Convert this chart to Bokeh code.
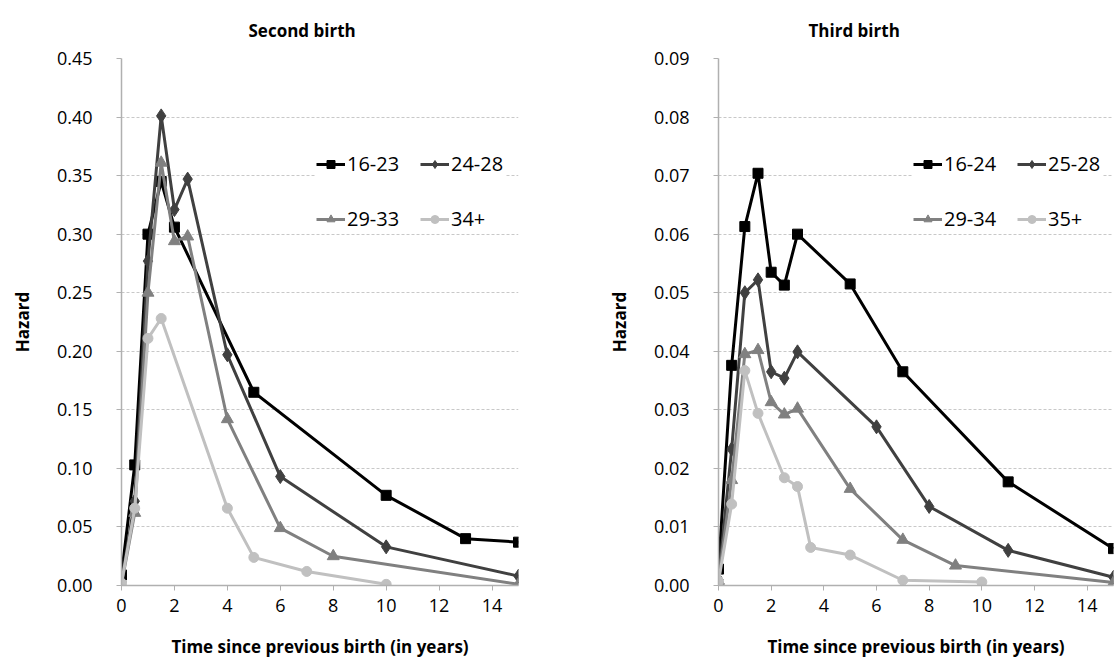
from bokeh.plotting import figure
from bokeh.models import Range1d, FixedTicker, Legend, LegendItem, PrintfTickFormatter
from bokeh.layouts import row
from bokeh.embed import file_html
from bokeh.resources import INLINE

# ---------------- data ----------------
x_ticks = [0, 2, 4, 6, 8, 10, 12, 14]

second_title = "Second birth"
second_labels = ["16-23", "24-28", "29-33", "34+"]
second_x_16_23 = [0, 0.5, 1, 1.5, 2, 5, 10, 13, 15]
second_y_16_23 = [0.009, 0.103, 0.300, 0.345, 0.306, 0.165, 0.077, 0.040, 0.037]
second_x_24_28 = [0, 0.5, 1, 1.5, 2, 2.5, 4, 6, 10, 15]
second_y_24_28 = [0.003, 0.072, 0.277, 0.401, 0.321, 0.347, 0.197, 0.093, 0.033, 0.008]
second_x_29_33 = [0, 0.5, 1, 1.5, 2, 2.5, 4, 6, 8, 15]
second_y_29_33 = [0.001, 0.062, 0.250, 0.361, 0.294, 0.298, 0.142, 0.049, 0.025, 0.001]
second_x_34p = [0, 0.5, 1, 1.5, 4, 5, 7, 10]
second_y_34p = [0.002, 0.066, 0.211, 0.228, 0.066, 0.024, 0.012, 0.001]
second_y_ticks = [0.0, 0.05, 0.10, 0.15, 0.20, 0.25, 0.30, 0.35, 0.40, 0.45]

third_title = "Third birth"
third_labels = ["16-24", "25-28", "29-34", "35+"]
third_x_16_24 = [0, 0.5, 1, 1.5, 2, 2.5, 3, 5, 7, 11, 15]
third_y_16_24 = [0.0028, 0.0376, 0.0613, 0.0704, 0.0535, 0.0513, 0.0600, 0.0515, 0.0365, 0.0177, 0.0063]
third_x_25_28 = [0, 0.5, 1, 1.5, 2, 2.5, 3, 6, 8, 11, 15]
third_y_25_28 = [0.0010, 0.0233, 0.0500, 0.0522, 0.0365, 0.0354, 0.0399, 0.0271, 0.0135, 0.0060, 0.0014]
third_x_29_34 = [0, 0.5, 1, 1.5, 2, 2.5, 3, 5, 7, 9, 15]
third_y_29_34 = [0.0008, 0.0180, 0.0395, 0.0402, 0.0313, 0.0292, 0.0302, 0.0165, 0.0078, 0.0034, 0.0005]
third_x_35p = [0, 0.5, 1, 1.5, 2.5, 3, 3.5, 5, 7, 10]
third_y_35p = [0.0007, 0.0139, 0.0367, 0.0294, 0.0184, 0.0169, 0.0065, 0.0052, 0.0009, 0.0006]
third_y_ticks = [0.0, 0.01, 0.02, 0.03, 0.04, 0.05, 0.06, 0.07, 0.08, 0.09]

x_label = "Time since previous birth (in years)"
y_label = "Hazard"

# ---------------- styling ----------------
COLORS = ["#000000", "#404040", "#808080", "#c0c0c0"]
MARKERS = ["square", "diamond", "triangle", "circle"]
SIZES = [10, 14, 12, 10]
FONT = "Open Sans"
AXIS_COLOR = "#b0b0b0"
GRID_COLOR = "#c8c8c8"


def make_panel(title, series, labels, y_end, y_ticks, width, border_left, border_right, title_offset):
    p = figure(width=width, height=670, x_range=Range1d(0, 15), y_range=Range1d(0, y_end),
               output_backend="svg", toolbar_location=None,
               min_border_left=border_left, min_border_right=border_right,
               min_border_top=57, min_border_bottom=85)
    p.outline_line_color = None
    p.background_fill_color = "white"

    p.title.text = title
    p.title.text_font = FONT
    p.title.text_font_size = "17px"
    p.title.text_font_style = "bold"
    p.title.text_color = "#000000"
    p.title.align = "left"
    p.title.offset = title_offset
    p.title.standoff = 33

    p.xgrid.visible = False
    p.ygrid.ticker = FixedTicker(ticks=y_ticks)
    p.ygrid.grid_line_color = GRID_COLOR
    p.ygrid.grid_line_dash = "3 2"
    p.ygrid.grid_line_width = 1

    p.xaxis.ticker = FixedTicker(ticks=x_ticks)
    p.yaxis.ticker = FixedTicker(ticks=y_ticks)
    p.yaxis.formatter = PrintfTickFormatter(format="%.2f")
    for ax in (p.xaxis, p.yaxis):
        ax.axis_line_color = AXIS_COLOR
        ax.axis_line_width = 1.5
        ax.major_tick_line_color = AXIS_COLOR
        ax.major_tick_in = 0
        ax.major_tick_out = 5
        ax.minor_tick_line_color = None
        ax.major_label_text_font = FONT
        ax.major_label_text_font_size = "18px"
        ax.major_label_text_color = "#000000"
        ax.axis_label_text_font = FONT
        ax.axis_label_text_font_size = "17px"
        ax.axis_label_text_font_style = "bold"
        ax.axis_label_text_color = "#000000"
    p.xaxis.axis_label = x_label
    p.yaxis.axis_label = y_label
    p.xaxis.major_label_standoff = 8
    p.xaxis.axis_label_standoff = 20
    p.yaxis.major_label_standoff = 24
    p.yaxis.axis_label_standoff = 20

    items = []
    for (xs, ys), lab, col, mk, sz in zip(series, labels, COLORS, MARKERS, SIZES):
        lr = p.line(xs, ys, line_color=col, line_width=3, line_join="round")
        sr = p.scatter(xs, ys, marker=mk, size=sz, fill_color=col, line_color=col)
        items.append(LegendItem(label=lab, renderers=[lr, sr]))

    common = dict(orientation="horizontal", padding=14, spacing=18, glyph_width=29, glyph_height=20,
                  label_standoff=2, label_width=55, label_height=20,
                  label_text_font=FONT, label_text_font_size="20px", label_text_color="#000000",
                  background_fill_color="white", background_fill_alpha=1.0,
                  border_line_color=None)
    leg1 = Legend(items=items[:2], location=(195, 408), **common)
    leg2 = Legend(items=items[2:], location=(195, 353), **common)
    p.add_layout(leg1)
    p.add_layout(leg2)
    return p


p1 = make_panel(second_title,
                [(second_x_16_23, second_y_16_23), (second_x_24_28, second_y_24_28),
                 (second_x_29_33, second_y_29_33), (second_x_34p, second_y_34p)],
                second_labels, 0.45, second_y_ticks, 560, 121, 42, 127)
p2 = make_panel(third_title,
                [(third_x_16_24, third_y_16_24), (third_x_25_28, third_y_25_28),
                 (third_x_29_34, third_y_29_34), (third_x_35p, third_y_35p)],
                third_labels, 0.09, third_y_ticks, 555, 158, 2, 90)

layout = row(p1, p2)
open("out.html", "w").write(file_html(layout, INLINE))
